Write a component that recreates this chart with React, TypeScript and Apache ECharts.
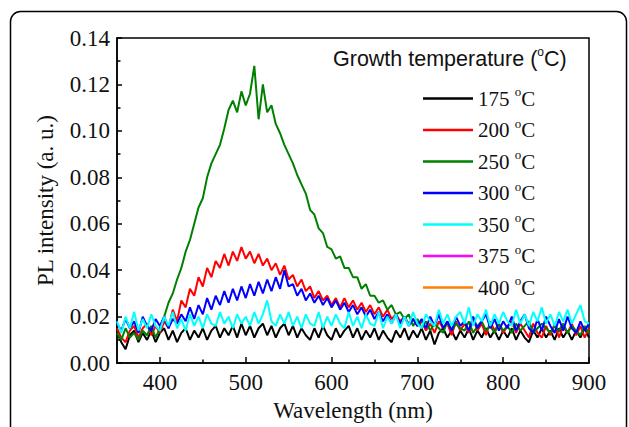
import React, { useEffect, useRef } from "react";
import * as echarts from "echarts";

// Wavelength grid: 350 nm to 900 nm, 5 nm steps (111 samples per spectrum)
const startNm = 350;
const stepNm = 5;

const temps = ["175", "200", "250", "300", "350", "375", "400"];
const colors = ["#000000", "#ff0000", "#008000", "#0000ff", "#00ffff", "#ff00ff", "#ff8000"];

const xTickLabels = [400, 500, 600, 700, 800, 900];
const xMinorTicks = [450, 550, 650, 750, 850];

const pl175 = [
  0.013, 0.009, 0.006, 0.012, 0.014, 0.009, 0.013, 0.010, 0.014, 0.009,
  0.013, 0.015, 0.010, 0.014, 0.009, 0.013, 0.015, 0.010, 0.014, 0.011,
  0.015, 0.010, 0.014, 0.016, 0.011, 0.015, 0.012, 0.016, 0.011, 0.017,
  0.012, 0.016, 0.011, 0.015, 0.017, 0.012, 0.016, 0.011, 0.015, 0.017,
  0.012, 0.016, 0.011, 0.015, 0.012, 0.010, 0.015, 0.011, 0.016, 0.012,
  0.010, 0.015, 0.011, 0.014, 0.016, 0.011, 0.015, 0.010, 0.014, 0.011,
  0.015, 0.010, 0.014, 0.011, 0.009, 0.014, 0.011, 0.015, 0.010, 0.014,
  0.011, 0.015, 0.010, 0.014, 0.008, 0.013, 0.015, 0.011, 0.014, 0.010,
  0.014, 0.011, 0.015, 0.010, 0.014, 0.011, 0.015, 0.011, 0.014, 0.010,
  0.014, 0.011, 0.015, 0.010, 0.014, 0.011, 0.009, 0.014, 0.011, 0.015,
  0.011, 0.014, 0.010, 0.015, 0.011, 0.014, 0.010, 0.014, 0.011, 0.015,
  0.011,
];

const pl200 = [
  0.015, 0.011, 0.009, 0.014, 0.016, 0.011, 0.015, 0.017, 0.012, 0.016,
  0.013, 0.018, 0.015, 0.023, 0.018, 0.027, 0.024, 0.032, 0.029, 0.037,
  0.033, 0.041, 0.037, 0.044, 0.041, 0.047, 0.042, 0.048, 0.044, 0.050,
  0.045, 0.048, 0.043, 0.047, 0.042, 0.045, 0.040, 0.043, 0.038, 0.042,
  0.036, 0.038, 0.033, 0.036, 0.031, 0.033, 0.028, 0.031, 0.027, 0.029,
  0.025, 0.028, 0.024, 0.028, 0.024, 0.027, 0.023, 0.026, 0.022, 0.025,
  0.021, 0.024, 0.020, 0.023, 0.019, 0.021, 0.018, 0.020, 0.017, 0.019,
  0.016, 0.018, 0.014, 0.017, 0.013, 0.018, 0.015, 0.017, 0.012, 0.018,
  0.014, 0.017, 0.013, 0.019, 0.014, 0.017, 0.012, 0.018, 0.014, 0.017,
  0.013, 0.016, 0.018, 0.013, 0.017, 0.014, 0.011, 0.017, 0.013, 0.011,
  0.016, 0.012, 0.017, 0.011, 0.016, 0.013, 0.017, 0.012, 0.016, 0.011,
  0.015,
];

const pl250 = [
  0.013, 0.010, 0.015, 0.011, 0.013, 0.010, 0.014, 0.012, 0.016, 0.011,
  0.015, 0.020, 0.026, 0.030, 0.036, 0.041, 0.048, 0.053, 0.060, 0.067,
  0.071, 0.080, 0.086, 0.090, 0.094, 0.101, 0.109, 0.113, 0.108, 0.117,
  0.111, 0.116, 0.128, 0.105, 0.120, 0.108, 0.111, 0.103, 0.099, 0.094,
  0.090, 0.086, 0.081, 0.077, 0.073, 0.066, 0.064, 0.058, 0.056, 0.050,
  0.049, 0.045, 0.046, 0.041, 0.041, 0.037, 0.037, 0.032, 0.034, 0.029,
  0.029, 0.026, 0.027, 0.023, 0.025, 0.021, 0.022, 0.019, 0.021, 0.016,
  0.019, 0.015, 0.018, 0.014, 0.017, 0.015, 0.013, 0.018, 0.014, 0.017,
  0.015, 0.014, 0.018, 0.013, 0.016, 0.018, 0.014, 0.016, 0.013, 0.017,
  0.014, 0.016, 0.013, 0.017, 0.014, 0.016, 0.018, 0.013, 0.015, 0.017,
  0.015, 0.013, 0.016, 0.014, 0.017, 0.013, 0.016, 0.014, 0.012, 0.016,
  0.013,
];

const pl300 = [
  0.017, 0.014, 0.019, 0.015, 0.018, 0.013, 0.020, 0.016, 0.014, 0.019,
  0.016, 0.020, 0.015, 0.019, 0.017, 0.021, 0.018, 0.024, 0.019, 0.025,
  0.021, 0.028, 0.023, 0.029, 0.025, 0.031, 0.026, 0.032, 0.027, 0.033,
  0.028, 0.034, 0.029, 0.035, 0.030, 0.036, 0.031, 0.037, 0.032, 0.040,
  0.033, 0.034, 0.029, 0.032, 0.027, 0.030, 0.026, 0.029, 0.025, 0.028,
  0.024, 0.027, 0.023, 0.026, 0.022, 0.025, 0.021, 0.024, 0.020, 0.023,
  0.019, 0.022, 0.018, 0.021, 0.017, 0.021, 0.017, 0.020, 0.016, 0.019,
  0.016, 0.019, 0.015, 0.020, 0.016, 0.021, 0.015, 0.018, 0.014, 0.020,
  0.016, 0.018, 0.014, 0.020, 0.015, 0.018, 0.021, 0.015, 0.019, 0.014,
  0.018, 0.015, 0.020, 0.014, 0.018, 0.021, 0.015, 0.013, 0.019, 0.014,
  0.020, 0.016, 0.013, 0.019, 0.014, 0.020, 0.015, 0.013, 0.018, 0.014,
  0.017,
];

const pl350 = [
  0.018, 0.013, 0.020, 0.015, 0.022, 0.014, 0.019, 0.015, 0.021, 0.016,
  0.014, 0.020, 0.016, 0.022, 0.015, 0.019, 0.014, 0.021, 0.016, 0.020,
  0.015, 0.021, 0.017, 0.016, 0.022, 0.017, 0.020, 0.015, 0.021, 0.017,
  0.020, 0.016, 0.022, 0.017, 0.021, 0.027, 0.018, 0.016, 0.021, 0.017,
  0.022, 0.016, 0.020, 0.015, 0.021, 0.017, 0.016, 0.022, 0.015, 0.020,
  0.016, 0.021, 0.017, 0.015, 0.022, 0.016, 0.020, 0.015, 0.021, 0.017,
  0.016, 0.022, 0.015, 0.020, 0.017, 0.021, 0.015, 0.020, 0.016, 0.022,
  0.017, 0.015, 0.021, 0.018, 0.016, 0.023, 0.017, 0.021, 0.016, 0.020,
  0.022, 0.017, 0.024, 0.016, 0.021, 0.018, 0.023, 0.016, 0.021, 0.017,
  0.022, 0.018, 0.016, 0.023, 0.017, 0.021, 0.016, 0.022, 0.018, 0.024,
  0.017, 0.021, 0.016, 0.022, 0.018, 0.023, 0.017, 0.021, 0.025, 0.018,
  0.017,
];

const pl375: number[] = [];
const pl400: number[] = [];

const spectra = [pl175, pl200, pl250, pl300, pl350, pl375, pl400];

const serif = "'Liberation Serif', 'Times New Roman', serif";
const sans = "'Liberation Sans', Arial, sans-serif";

export default function App() {
  const ref = useRef<HTMLDivElement>(null);

  useEffect(() => {
    if (!ref.current) return;
    const chart = echarts.init(ref.current, undefined, { renderer: "svg" });

    const series = spectra.map((vals, k) => ({
      name: `${temps[k]} °C`,
      type: "line",
      symbol: "none",
      data: vals.map((v, i) => [startNm + i * stepNm, v]),
      lineStyle: { color: colors[k], width: 2 },
      itemStyle: { color: colors[k] },
      z: 2 + k,
    }));

    chart.setOption({
      animation: false,
      backgroundColor: "#ffffff",
      title: {
        text: "{t|Growth temperature (}{s|o}{t|C)}",
        left: 333,
        top: 46,
        padding: 0,
        textStyle: {
          rich: {
            t: { fontFamily: sans, fontSize: 21.5, fontWeight: "normal", color: "#111", lineHeight: 26 },
            s: { fontFamily: sans, fontSize: 12, fontWeight: "normal", color: "#111", lineHeight: 26, padding: [0, 0, 14, 0] },
          },
        },
      },
      legend: {
        orient: "vertical",
        left: 423,
        top: 85,
        padding: 0,
        itemGap: 4.5,
        itemWidth: 50,
        itemHeight: 2.5,
        icon: "rect",
        selectedMode: false,
        data: temps.map((t) => `${t} °C`),
        formatter: (name: string) => `{n|${name.split(" ")[0]} }{s|o}{n|C}`,
        textStyle: {
          rich: {
            n: { fontFamily: serif, fontSize: 21, color: "#111", lineHeight: 24 },
            s: { fontFamily: serif, fontSize: 13, color: "#111", lineHeight: 24, padding: [0, 0, 14, 0] },
          },
        },
      },
      grid: {
        left: 117,
        top: 38,
        right: 40,
        bottom: 61,
        show: true,
        borderColor: "#000",
        borderWidth: 1.5,
        backgroundColor: "transparent",
      },
      xAxis: [
        {
          type: "value",
          min: 350,
          max: 900,
          name: "Wavelength (nm)",
          nameLocation: "middle",
          nameGap: 32,
          nameTextStyle: { fontFamily: serif, fontSize: 23, color: "#111" },
          axisLine: { show: true, lineStyle: { color: "#000", width: 1.5 } },
          axisTick: {
            show: true,
            inside: true,
            length: 6,
            customValues: xTickLabels,
            lineStyle: { color: "#000", width: 1.5 },
          },
          axisLabel: {
            show: true,
            customValues: xTickLabels,
            fontFamily: serif,
            fontSize: 23,
            color: "#111",
            margin: 8,
          },
          splitLine: { show: false },
        },
        {
          type: "value",
          min: 350,
          max: 900,
          position: "bottom",
          axisLine: { show: false },
          axisTick: {
            show: true,
            inside: true,
            length: 3.5,
            customValues: xMinorTicks,
            lineStyle: { color: "#000", width: 1.5 },
          },
          axisLabel: { show: false },
          splitLine: { show: false },
        },
      ],
      yAxis: {
        type: "value",
        min: 0,
        max: 0.14,
        interval: 0.02,
        name: "PL intensity (a. u.)",
        nameLocation: "middle",
        nameGap: 60,
        nameTextStyle: { fontFamily: serif, fontSize: 23, color: "#111" },
        axisLine: { show: true, lineStyle: { color: "#000", width: 1.5 } },
        axisTick: { show: true, inside: true, length: 5, lineStyle: { color: "#000", width: 1.5 } },
        minorTick: { show: true, splitNumber: 2, length: 3.5, lineStyle: { color: "#000", width: 1.5 } },
        axisLabel: {
          fontFamily: serif,
          fontSize: 23,
          color: "#111",
          margin: 7,
          formatter: (v: number) => v.toFixed(2),
        },
        splitLine: { show: false },
      },
      graphic: [
        {
          type: "rect",
          silent: true,
          z: 100,
          shape: { x: 10.5, y: 11.5, width: 616, height: 460, r: 10 },
          style: { fill: "none", stroke: "#000", lineWidth: 1.5 },
        },
      ],
      series,
    });

    return () => chart.dispose();
  }, []);

  return (
    <div
      ref={ref}
      style={{ position: "fixed", left: 0, top: 0, width: 629, height: 427, background: "#fff" }}
    />
  );
}
